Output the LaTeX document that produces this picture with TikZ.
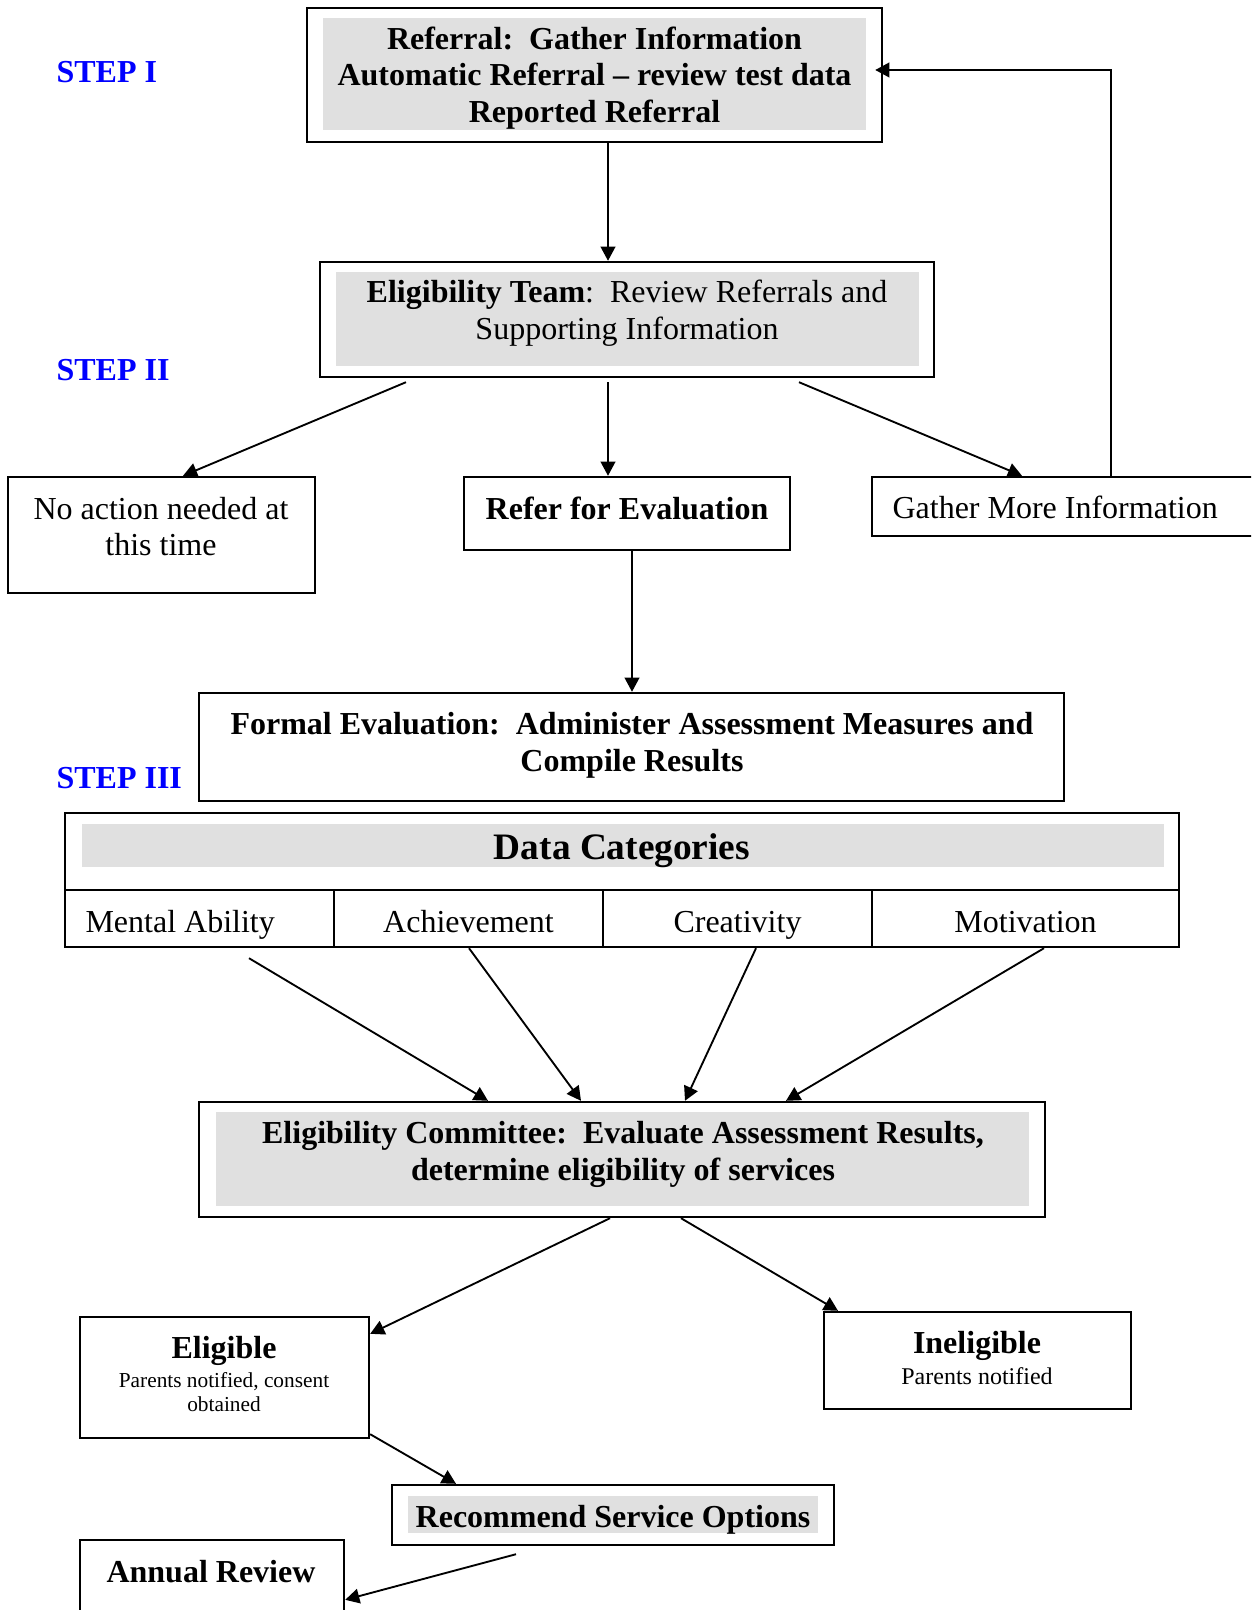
\documentclass[tikz,border=0pt]{standalone}
\usepackage{fontspec}
\setmainfont{Liberation Serif}
\usetikzlibrary{arrows.meta,calc}
\newdimen\pxu \pxu=0.375pt

\begin{document}
\begin{tikzpicture}[
    x=0.375pt,y=-0.375pt,
    frame/.style={draw, line width=0.9pt, inner sep=0pt},
    boldtxt/.style={align=center, inner sep=0pt, font=\fontsize{12}{13.8}\selectfont\bfseries},
    plaintxt/.style={align=center, inner sep=0pt, font=\fontsize{12}{13.8}\selectfont},
    cell/.style={frame, plaintxt, minimum height=57*\pxu, text height=10.2pt, text depth=0pt},
    steplabel/.style={anchor=west, inner sep=0pt, text=blue, font=\fontsize{12}{13.8}\selectfont\bfseries},
    arr/.style={line width=0.7pt, -{Triangle[length=5.3pt,width=5.5pt]}},
    shade/.style={fill=black!12}
    ]
    \useasboundingbox (0,0) rectangle (1251,1610);
    \clip (0,0) rectangle (1251,1610);

    % step labels
    \node[steplabel] (stepone) at (56,72) {STEP I};
    \node[steplabel] (steptwo) at (56,370) {STEP II};
    \node[steplabel] (stepthree) at (56,778) {STEP III};

    % step I
    \fill[shade] (323,18) rectangle (866,130);
    \node[frame, minimum width=575*\pxu, minimum height=134*\pxu] (ref) at (594.5,75) {};
    \node[boldtxt] (reftxt) at (594.5,78) {Referral:\ \ Gather Information\\Automatic Referral -- review test data\\Reported Referral};

    % step II
    \fill[shade] (336,272) rectangle (919,366);
    \node[frame, minimum width=614*\pxu, minimum height=115*\pxu] (team) at (627,319.5) {};
    \node[plaintxt] (teamtxt) at (627,313) {\textbf{Eligibility Team}:\ \ Review Referrals and\\Supporting Information};

    \node[frame, minimum width=307*\pxu, minimum height=116*\pxu] (noact) at (161.5,535) {};
    \node[plaintxt] (noacttxt) at (161,526.5) {No action needed at\\this time};

    \node[frame, minimum width=326*\pxu, minimum height=73*\pxu] (refer) at (627,513.5) {};
    \node[boldtxt] (refertxt) at (627,508) {Refer for Evaluation};

    \node[frame, minimum width=418*\pxu, minimum height=59*\pxu] (gather) at (1081,506.5) {};
    \node[plaintxt, anchor=west] (gathertxt) at (892,507) {Gather More Information};

    \draw[arr] ($(ref.south)+(13.5,0)$) -- ($(team.north)+(-19,0)$);
    \draw[arr] ($(team.south)+(-221,4)$) -- ($(noact.north)+(21.5,0)$);
    \draw[arr] ($(team.south)+(-19,4)$) -- ($(refer.north)+(-19,0)$);
    \draw[arr] ($(team.south)+(172,4)$) -- ($(gather.north)+(-59,0)$);
    \coordinate (fb) at (1111,70);
    \draw[arr] (gather.north -| fb) -- (fb) -- ($(fb -| ref.east)+(-8,0)$);

    % step III
    \node[frame, minimum width=865*\pxu, minimum height=108*\pxu] (formal) at (631.5,747) {};
    \node[boldtxt] (formaltxt) at (632,745.5) {Formal Evaluation:\ \ Administer Assessment Measures and\\Compile Results};
    \draw[arr] ($(refer.south)+(5,0)$) -- ($(formal.north)+(0.5,0)$);

    \fill[shade] (82,824) rectangle (1164,867);
    \node[frame, minimum width=1114*\pxu, minimum height=77*\pxu] (datacat) at (622,851.5) {};
    \node[boldtxt, font=\fontsize{14}{16}\selectfont\bfseries] (datacattxt) at (622,851) {Data Categories};
    \node[cell, minimum width=269*\pxu, text width=228*\pxu, align=flush left] (mental) at (199.5,918.5) {Mental Ability};
    \node[cell, minimum width=269*\pxu] (achieve) at (468.5,918.5) {Achievement};
    \node[cell, minimum width=269*\pxu] (creat) at (737.5,918.5) {Creativity};
    \node[cell, minimum width=307*\pxu] (motiv) at (1025.5,918.5) {Motivation};

    \fill[shade] (216,1112) rectangle (1029,1206);
    \node[frame, minimum width=846*\pxu, minimum height=115*\pxu] (comm) at (622,1159.5) {};
    \node[boldtxt] (commtxt) at (623,1154.5) {Eligibility Committee:\ \ Evaluate Assessment Results,\\determine eligibility of services};

    \draw[arr] ($(mental.south)+(49.5,10)$) -- ($(comm.north)+(-134,0)$);
    \draw[arr] ($(achieve.south)+(0.5,0)$) -- ($(comm.north)+(-41,0)$);
    \draw[arr] ($(creat.south)+(18.5,0)$) -- ($(comm.north)+(63,0)$);
    \draw[arr] ($(motiv.south)+(18.5,0)$) -- ($(comm.north)+(164,0)$);

    % outcome
    \node[frame, minimum width=289*\pxu, minimum height=121*\pxu] (elig) at (224.5,1377.5) {};
    \node[boldtxt] (eligtitle) at (224,1351) {Eligible};
    \node[plaintxt, font=\fontsize{8}{9}\selectfont] (eligsub) at (224,1392) {Parents notified, consent\\obtained};

    \node[frame, minimum width=307*\pxu, minimum height=97*\pxu] (inel) at (977.5,1360.5) {};
    \node[boldtxt] (ineltitle) at (977,1346) {Ineligible};
    \node[plaintxt, font=\fontsize{9}{10}\selectfont] (inelsub) at (977,1376) {Parents notified};

    \draw[arr] ($(comm.south)+(-12,0)$) -- ($(elig.north east)+(0,18)$);
    \draw[arr] ($(comm.south)+(59,0)$) -- ($(inel.north)+(-139.5,0)$);

    \fill[shade] (408,1496) rectangle (818,1533);
    \node[frame, minimum width=442*\pxu, minimum height=60*\pxu] (rec) at (613,1515) {};
    \node[boldtxt] (rectxt) at (613,1520) {Recommend Service Options};
    \draw[arr] ($(elig.south east)+(0,-5)$) -- ($(rec.north)+(-157,0)$);

    \node[frame, minimum width=264*\pxu, minimum height=110*\pxu] (annual) at (212,1595) {};
    \node[boldtxt] (annualtxt) at (211,1572) {Annual Review};
    \draw[arr] ($(rec.south)+(-97,8)$) -- ($(annual.north east)+(0,61)$);
\end{tikzpicture}
\end{document}
